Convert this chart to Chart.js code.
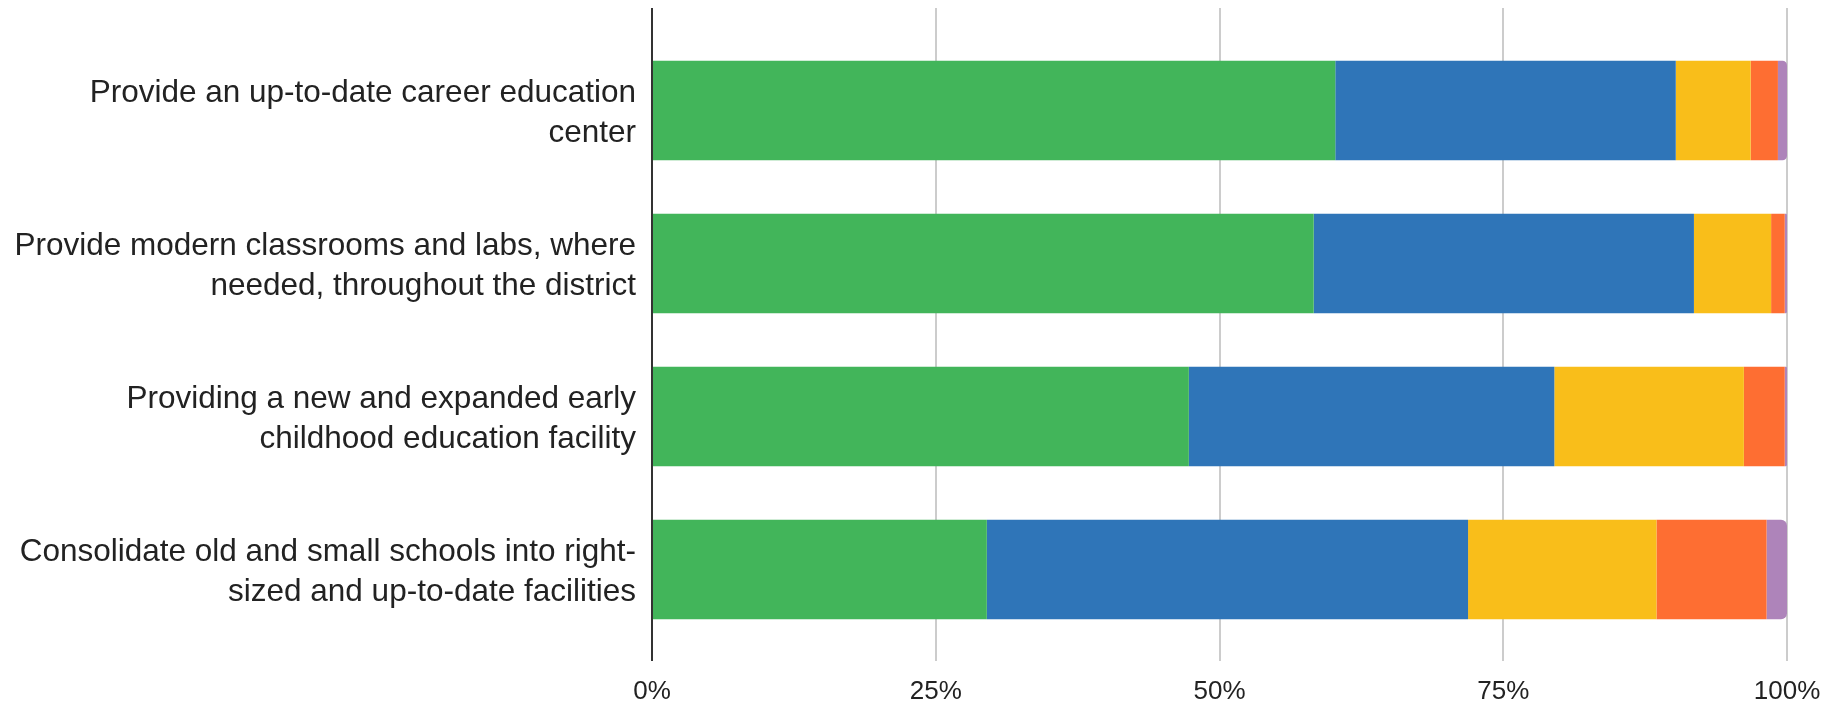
<!DOCTYPE html>
<html>
<head>
<meta charset="utf-8">
<script src="https://cdn.jsdelivr.net/npm/chart.js@4"></script>
<style>
html,body{margin:0;padding:0;background:#fff;overflow:hidden;}
canvas{display:block;}
</style>
</head>
<body>
<canvas id="c" width="1829" height="717" style="width:1829px;height:717px"></canvas>
<script>
const categories = [
  ["Provide an up-to-date career education", "center"],
  ["Provide modern classrooms and labs, where", "needed, throughout the district"],
  ["Providing a new and expanded early", "childhood education facility"],
  ["Consolidate old and small schools into right-", "sized and up-to-date facilities"]
];
const green  = [60.2, 58.3, 47.3, 29.5];
const blue   = [30.0, 33.5, 32.2, 42.4];
const yellow = [6.6, 6.8, 16.7, 16.6];
const orange = [2.4, 1.2, 3.6, 9.7];
const purple = [0.8, 0.2, 0.2, 1.8];
const xTicks = [0, 25, 50, 75, 100];

const FONT = "'Liberation Sans', Arial, sans-serif";

const extendedGrid = {
  id: 'extendedGrid',
  beforeDatasetsDraw(chart) {
    const {ctx, scales: {x}, chartArea} = chart;
    const top = chartArea.top - 26, bottom = chartArea.bottom + 15;
    ctx.save();
    xTicks.forEach(v => {
      if (v === 0) return;
      const px = Math.round(x.getPixelForValue(v));
      ctx.beginPath();
      ctx.lineWidth = 2;
      ctx.strokeStyle = '#cccccc';
      ctx.moveTo(px, top);
      ctx.lineTo(px, bottom);
      ctx.stroke();
    });
    ctx.restore();
  },
  afterDatasetsDraw(chart) {
    const {ctx, scales: {x}, chartArea} = chart;
    const px = Math.round(x.getPixelForValue(0));
    ctx.save();
    ctx.beginPath();
    ctx.lineWidth = 2;
    ctx.strokeStyle = '#333333';
    ctx.moveTo(px, chartArea.top - 26);
    ctx.lineTo(px, chartArea.bottom + 15);
    ctx.stroke();
    ctx.restore();
  }
};

function ds(label, data, color, last) {
  return {
    label, data,
    backgroundColor: color,
    borderWidth: 0,
    borderRadius: last ? 6 : 0,
    categoryPercentage: 1.0,
    barPercentage: 0.65
  };
}

new Chart(document.getElementById('c'), {
  type: 'bar',
  data: {
    labels: categories,
    datasets: [
      ds('Green', green, '#42b55a'),
      ds('Blue', blue, '#2f75b8'),
      ds('Yellow', yellow, '#f9be1a'),
      ds('Orange', orange, '#fe6e32'),
      ds('Purple', purple, '#ae84ba', true)
    ]
  },
  options: {
    indexAxis: 'y',
    responsive: false,
    maintainAspectRatio: false,
    animation: false,
    devicePixelRatio: 1,
    layout: { padding: { left: 0, right: 42, top: 34, bottom: 0 } },
    plugins: { legend: { display: false }, tooltip: { enabled: false } },
    scales: {
      x: {
        stacked: true,
        min: 0, max: 100,
        afterBuildTicks(s) { s.ticks = xTicks.map(v => ({ value: v })); },
        grid: { display: false, drawTicks: false },
        border: { display: false },
        ticks: {
          padding: 30,
          color: '#222222',
          font: { family: FONT, size: 26 },
          callback: v => v + '%'
        },
        afterFit(s) { s.height = 71; s.paddingLeft = 0; s.paddingRight = 0; }
      },
      y: {
        stacked: true,
        grid: { display: false, drawTicks: false },
        border: { display: false },
        ticks: {
          padding: 16,
          labelOffset: 3,
          color: '#222222',
          font: { family: FONT, size: 31.5, lineHeight: 1.26 }
        },
        afterFit(s) { s.width = 652; s.paddingTop = 0; s.paddingBottom = 0; }
      }
    }
  },
  plugins: [extendedGrid]
});
</script>
</body>
</html>
